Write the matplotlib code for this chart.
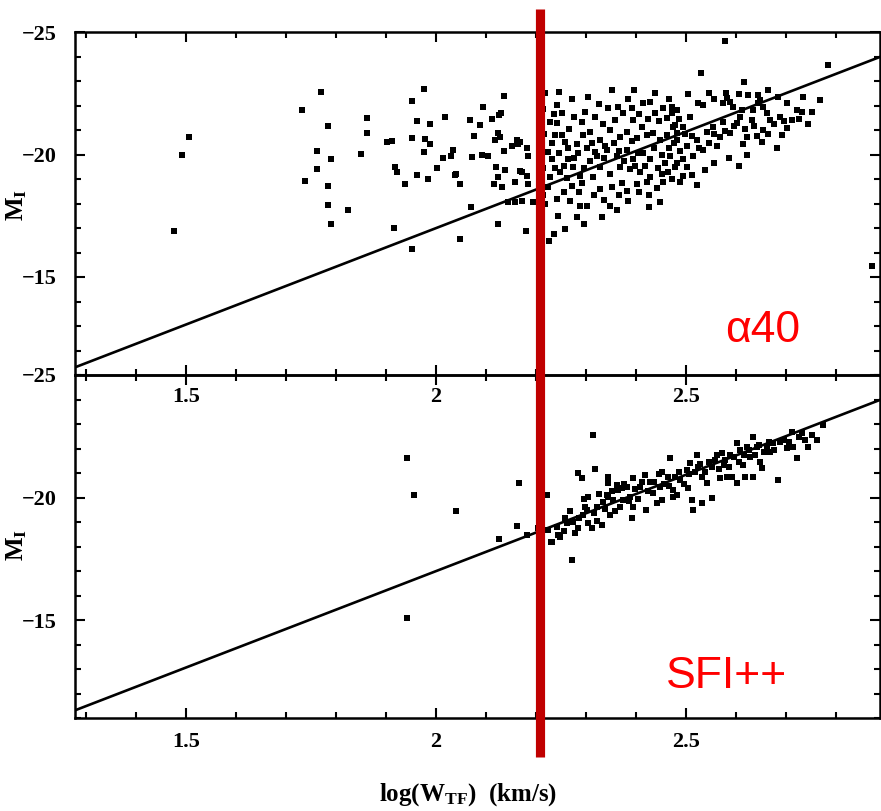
import matplotlib
matplotlib.use("Agg")
import matplotlib.pyplot as plt
from matplotlib.ticker import MultipleLocator, FixedLocator
from matplotlib.lines import Line2D
from matplotlib.transforms import blended_transform_factory

# ---------------- data ----------------
x_ticks = [1.5, 2.0, 2.5]
x_tick_labels = ["1.5", "2", "2.5"]
y_ticks = [-25, -20, -15]
y_tick_labels = ["\u221225", "\u221220", "\u221215"]
x_range = (1.278, 2.888)
mag_range = (-11, -25)

tf_zero_point = -20.93      # M_I at log W = 2.5
tf_slope = -7.87
tf_pivot = 2.5

cut_logw = 2.208            # red vertical cut

alpha40_label = "\u03b140"
sfi_label = "SFI++"

alpha40_points = [
    (1.476, -16.87), (1.492, -19.96), (1.506, -20.73), (1.732, -21.83), (1.770, -22.56),
    (1.784, -21.18), (1.762, -20.16), (1.790, -19.80), (1.762, -19.39), (1.738, -18.90),
    (1.784, -18.70), (1.784, -17.93), (1.790, -17.15), (1.824, -17.72), (1.850, -20.04),
    (1.862, -21.50), (1.862, -20.89), (1.902, -20.53), (1.912, -20.57), (1.918, -19.47),
    (1.922, -19.27), (1.938, -18.78), (1.916, -16.99), (1.952, -16.14), (1.952, -22.20),
    (1.976, -22.68), (1.962, -21.38), (1.988, -21.26), (1.952, -20.69), (1.978, -20.65),
    (1.988, -20.41), (1.976, -20.12), (1.962, -19.15), (1.984, -19.02), (2.002, -19.43),
    (2.018, -21.54), (2.014, -19.84), (2.030, -19.92), (2.034, -20.20), (2.038, -19.15),
    (2.048, -18.78), (2.048, -16.54), (2.070, -17.85), (2.068, -21.42), (2.094, -21.95),
    (2.088, -21.22), (2.076, -20.77), (2.072, -19.88), (2.112, -21.46), (2.126, -21.63),
    (2.136, -22.40), (2.092, -20.00), (2.104, -19.92), (2.118, -20.61), (2.124, -20.89),
    (2.136, -20.16), (2.120, -19.51), (2.138, -19.35), (2.124, -19.07), (2.116, -18.78),
    (2.132, -18.66), (2.158, -18.86), (2.124, -17.15), (2.144, -18.05), (2.158, -18.05),
    (2.164, -20.41), (2.152, -20.33), (2.168, -19.31), (2.180, -16.87), (2.040, -19.19),
    (2.130, -21.71), (2.128, -20.73), (2.162, -20.61), (2.168, -20.49), (2.182, -20.28),
    (2.184, -19.92), (2.172, -19.27), (2.184, -18.78), (2.194, -18.05), (2.172, -18.09),
    (2.182, -19.11),
    (2.218, -22.52), (2.242, -22.03), (2.252, -21.71), (2.228, -21.34), (2.242, -21.30),
    (2.238, -20.81), (2.252, -20.81), (2.224, -20.12), (2.232, -19.80), (2.248, -19.27),
    (2.228, -19.07), (2.224, -18.66), (2.242, -18.17), (2.244, -17.48), (2.218, -17.97),
    (2.268, -18.09), (2.282, -17.44), (2.288, -17.89), (2.272, -18.70), (2.286, -18.46),
    (2.258, -20.53), (2.264, -20.28), (2.282, -20.41), (2.294, -20.81), (2.292, -21.34),
    (2.308, -20.93), (2.352, -22.64), (2.344, -21.91), (2.364, -21.95), (2.358, -21.42),
    (2.374, -21.71), (2.392, -21.91), (2.394, -21.42), (2.412, -21.14), (2.414, -22.11),
    (2.428, -22.15), (2.438, -22.52), (2.454, -21.91), (2.472, -21.95), (2.438, -21.71),
    (2.462, -21.50), (2.478, -21.22), (2.318, -20.12), (2.328, -20.61), (2.348, -21.02),
    (2.368, -20.73), (2.382, -20.93), (2.402, -20.69), (2.422, -20.81), (2.434, -20.89),
    (2.448, -20.61), (2.462, -20.81), (2.482, -20.89), (2.342, -20.20), (2.362, -19.92),
    (2.382, -20.20), (2.394, -19.80), (2.414, -20.08), (2.428, -19.80), (2.452, -20.00),
    (2.468, -19.92), (2.482, -19.67), (2.308, -19.72), (2.328, -19.51), (2.348, -19.19),
    (2.368, -19.51), (2.388, -19.39), (2.408, -19.27), (2.428, -19.07), (2.452, -19.19),
    (2.472, -18.98), (2.314, -19.07), (2.328, -18.58), (2.352, -18.66), (2.382, -18.50),
    (2.402, -18.78), (2.422, -18.86), (2.454, -18.86), (2.464, -19.27), (2.348, -17.89),
    (2.384, -18.09), (2.302, -17.89), (2.274, -19.47), (2.288, -19.11), (2.264, -19.80),
    (2.530, -23.33), (2.784, -23.66), (2.578, -24.63), (2.546, -22.52), (2.580, -22.52),
    (2.582, -22.32), (2.624, -22.44), (2.644, -22.44), (2.648, -22.24), (2.734, -22.36),
    (2.768, -22.24), (2.702, -22.11), (2.722, -21.83), (2.752, -21.75), (2.732, -21.75),
    (2.712, -21.42), (2.702, -21.10), (2.692, -20.81), (2.682, -20.28), (2.652, -20.49),
    (2.622, -20.00), (2.614, -20.41), (2.622, -20.73), (2.654, -21.02), (2.668, -21.42),
    (2.662, -21.71), (2.632, -21.42), (2.612, -21.83), (2.594, -21.95), (2.574, -22.11),
    (2.588, -22.15), (2.534, -22.03), (2.524, -22.11), (2.508, -21.54), (2.482, -21.83),
    (2.472, -21.71), (2.494, -21.14), (2.474, -21.14), (2.482, -20.61), (2.502, -20.33),
    (2.522, -20.61), (2.542, -20.93), (2.554, -21.14), (2.574, -21.34), (2.588, -20.89),
    (2.568, -20.73), (2.562, -20.33), (2.534, -20.20), (2.514, -19.92), (2.494, -19.80),
    (2.478, -19.51), (2.502, -19.47), (2.494, -19.11), (2.488, -18.86), (2.602, -21.30),
    (2.608, -21.54), (2.634, -21.83), (2.644, -22.11), (2.654, -21.95), (2.872, -15.45),
    (2.232, -20.45), (2.246, -20.05), (2.256, -19.55), (2.238, -19.45), (2.262, -19.05),
    (2.276, -19.85), (2.284, -20.05), (2.296, -19.45), (2.302, -20.25), (2.312, -20.45),
    (2.322, -19.95), (2.336, -19.85), (2.338, -20.35), (2.356, -20.45), (2.366, -20.15),
    (2.376, -19.75), (2.392, -20.55), (2.404, -20.05), (2.398, -19.55), (2.418, -19.55),
    (2.436, -20.25), (2.444, -19.45), (2.458, -19.65), (2.466, -20.25), (2.476, -20.45),
    (2.488, -20.15), (2.498, -20.85), (2.512, -20.75), (2.526, -20.25), (2.546, -20.45),
    (2.556, -20.85), (2.578, -20.95), (2.596, -21.15), (2.618, -21.05), (2.636, -21.15),
    (2.642, -20.75), (2.664, -20.85), (2.676, -21.25), (2.688, -21.55), (2.696, -21.35),
    (2.726, -21.45), (2.744, -21.25), (2.236, -21.65), (2.266, -21.05), (2.276, -21.55),
    (2.298, -21.75), (2.318, -21.55), (2.334, -21.25), (2.326, -22.05), (2.384, -22.25),
    (2.406, -21.65), (2.446, -21.35), (2.424, -21.45), (2.486, -21.45), (2.466, -22.25),
    (2.396, -22.65), (2.504, -22.45), (2.556, -22.25), (2.606, -22.45), (2.616, -22.95),
    (2.664, -22.65), (2.684, -22.35), (2.256, -18.45), (2.292, -18.85), (2.316, -18.35),
    (2.336, -18.15), (2.366, -18.35), (2.372, -18.85), (2.406, -18.45), (2.426, -18.35),
    (2.442, -18.65), (2.362, -17.75), (2.332, -17.45), (2.296, -17.15), (2.258, -16.95),
    (2.236, -16.75), (2.426, -17.85), (2.448, -18.05), (2.512, -19.15), (2.522, -18.75),
    (2.556, -19.65), (2.586, -19.85), (2.606, -19.55), (2.538, -19.35), (2.226, -16.45),
    (2.214, -18.35), (2.214, -19.45), (2.216, -20.85), (2.214, -21.85), (2.246, -22.55),
    (2.272, -22.25), (2.304, -22.35),
]

sfi_points = [
    (1.942, -21.61), (1.956, -20.10), (2.040, -19.45), (1.942, -15.08), (2.166, -20.59),
    (2.222, -20.10), (2.162, -18.84), (2.126, -18.31), (2.182, -18.47), (2.204, -18.76),
    (2.224, -18.67), (2.230, -18.18),
    (2.314, -22.55), (2.284, -21.00), (2.292, -20.80), (2.318, -21.16), (2.304, -20.02),
    (2.344, -20.84), (2.344, -20.59), (2.298, -19.61), (2.294, -19.29), (2.258, -19.16),
    (2.274, -19.00), (2.284, -18.76), (2.312, -18.76), (2.332, -18.88), (2.348, -19.29),
    (2.322, -19.61), (2.342, -20.10), (2.362, -20.51), (2.372, -20.39), (2.354, -19.90),
    (2.374, -19.90), (2.368, -19.61), (2.388, -20.02), (2.394, -19.61), (2.392, -19.16),
    (2.420, -19.49), (2.408, -20.43), (2.418, -20.92), (2.428, -20.63), (2.434, -20.18),
    (2.448, -20.43), (2.452, -21.04), (2.464, -20.84), (2.468, -21.61), (2.474, -20.31),
    (2.452, -19.90), (2.442, -19.78), (2.482, -20.10), (2.488, -20.71), (2.502, -21.12),
    (2.508, -21.41), (2.522, -21.73), (2.524, -21.24), (2.532, -20.84), (2.504, -20.39),
    (2.512, -19.90), (2.532, -19.78), (2.514, -19.49), (2.552, -19.98), (2.542, -20.59),
    (2.552, -21.24), (2.562, -21.73), (2.568, -20.80), (2.582, -20.84), (2.592, -20.84),
    (2.576, -21.33), (2.588, -21.73), (2.602, -22.22), (2.608, -21.94), (2.602, -20.59),
    (2.618, -20.84), (2.634, -20.84), (2.614, -21.33), (2.628, -21.65), (2.634, -22.47),
    (2.648, -21.45), (2.652, -21.20), (2.642, -22.06), (2.662, -22.06), (2.674, -22.22),
    (2.684, -20.71), (2.688, -22.27), (2.702, -22.02), (2.712, -22.67), (2.714, -22.06),
    (2.722, -21.61), (2.732, -22.63), (2.744, -22.06), (2.762, -22.35), (2.774, -22.96),
    (2.668, -21.86), (2.622, -22.06), (2.572, -21.82), (2.474, -20.02), (2.394, -20.80),
    (2.382, -20.43), (2.364, -20.31), (2.344, -20.02), (2.334, -19.82), (2.302, -19.49),
    (2.248, -18.39), (2.232, -18.18), (2.272, -17.45), (2.222, -18.67), (2.242, -18.80),
    (2.262, -18.95), (2.268, -19.45), (2.286, -19.15), (2.296, -19.95), (2.316, -19.35),
    (2.326, -20.15), (2.338, -19.55), (2.352, -20.25), (2.358, -19.45), (2.376, -20.55),
    (2.386, -19.85), (2.398, -20.35), (2.404, -19.95), (2.412, -20.65), (2.424, -20.25),
    (2.436, -20.65), (2.446, -20.95), (2.456, -20.55), (2.466, -20.45), (2.478, -20.85),
    (2.486, -21.05), (2.496, -20.55), (2.506, -20.95), (2.518, -21.05), (2.528, -21.35),
    (2.538, -21.05), (2.546, -21.45), (2.558, -21.55), (2.566, -21.15), (2.578, -21.55),
    (2.586, -21.25), (2.596, -21.65), (2.606, -21.45), (2.616, -21.75), (2.626, -21.95),
    (2.638, -21.75), (2.646, -22.15), (2.656, -21.85), (2.666, -22.25), (2.676, -21.95),
    (2.696, -22.35), (2.706, -22.25), (2.726, -22.45), (2.738, -22.35), (2.752, -22.55),
    (2.256, -18.65), (2.244, -18.45), (2.278, -18.55), (2.304, -18.95), (2.322, -19.05),
]

# ---------------- style ----------------
plt.rcParams["mathtext.fontset"] = "custom"
plt.rcParams["mathtext.rm"] = "Liberation Serif:bold"
plt.rcParams["mathtext.it"] = "Liberation Serif:bold"
plt.rcParams["mathtext.bf"] = "Liberation Serif:bold"

W_PX, H_PX = 881, 811
fig = plt.figure(figsize=(W_PX / 100, H_PX / 100), dpi=100)

left = 75 / W_PX
width = 880 / W_PX - left
top_y0, top_y1 = 1 - 375 / H_PX, 1 - 32 / H_PX
bot_y0, bot_y1 = 1 - 718 / H_PX, 1 - 375 / H_PX

ax_bot = fig.add_axes([left, bot_y0, width, bot_y1 - bot_y0])
ax_top = fig.add_axes([left, top_y0, width, top_y1 - top_y0])

tick_font = dict(family="Liberation Serif", weight="bold", size=16)

for ax, pts, lab, lab_xy in [
    (ax_top, alpha40_points, alpha40_label, (2.654, -12.8)),
    (ax_bot, sfi_points, sfi_label, (2.582, -12.7)),
]:
    ax.set_facecolor("none")
    ax.set_xlim(*x_range)
    ax.set_ylim(*mag_range)
    xs = [p[0] for p in pts]
    ys = [p[1] for p in pts]
    ax.plot(xs, ys, "s", ms=4.8, color="black", mew=0, zorder=3)
    lx = list(x_range)
    ly = [tf_zero_point + tf_slope * (v - tf_pivot) for v in lx]
    ax.plot(lx, ly, "-", color="black", lw=1.9, zorder=2)

    ax.xaxis.set_major_locator(FixedLocator(x_ticks))
    ax.xaxis.set_minor_locator(MultipleLocator(0.1))
    ax.yaxis.set_major_locator(FixedLocator(y_ticks))
    ax.yaxis.set_minor_locator(MultipleLocator(1))
    ax.set_xticklabels(x_tick_labels, fontdict=tick_font)
    ax.set_yticklabels(y_tick_labels, fontdict=tick_font)
    ax.tick_params(which="both", direction="in", top=True, right=True,
                   width=1.5, color="black")
    ax.tick_params(which="major", length=7.5)
    ax.tick_params(which="minor", length=4)
    ax.tick_params(axis="y", pad=13)
    for s in ax.spines.values():
        s.set_linewidth(1.8)

    ax.text(lab_xy[0], lab_xy[1], lab, color="#ff0000", fontsize=32,
            family="Liberation Sans", ha="center", va="center")

ax_top.tick_params(axis="x", pad=9)
ax_bot.tick_params(axis="x", pad=10)

# y labels
fig.text(17 / W_PX, 1 - 205 / H_PX, r"M$_\mathrm{I}$", rotation=90, ha="center",
         va="center", family="Liberation Serif", weight="bold", fontsize=18)
fig.text(17 / W_PX, 1 - 545 / H_PX, r"M$_\mathrm{I}$", rotation=90, ha="center",
         va="center", family="Liberation Serif", weight="bold", fontsize=18)
# x label
fig.text(468 / W_PX, 1 - 795 / H_PX, r"log(W$_\mathrm{TF}$)  (km/s)", ha="center",
         va="center", family="Liberation Serif", weight="bold", fontsize=18)

# red vertical cut line spanning both panels
trans = blended_transform_factory(ax_top.transData, fig.transFigure)
fig.add_artist(Line2D([cut_logw, cut_logw], [1 - 9 / H_PX, 1 - 757 / H_PX],
                      transform=trans, color="#c00000", lw=6.6,
                      solid_capstyle="butt", zorder=10))

fig.savefig("out.png", dpi=100)
